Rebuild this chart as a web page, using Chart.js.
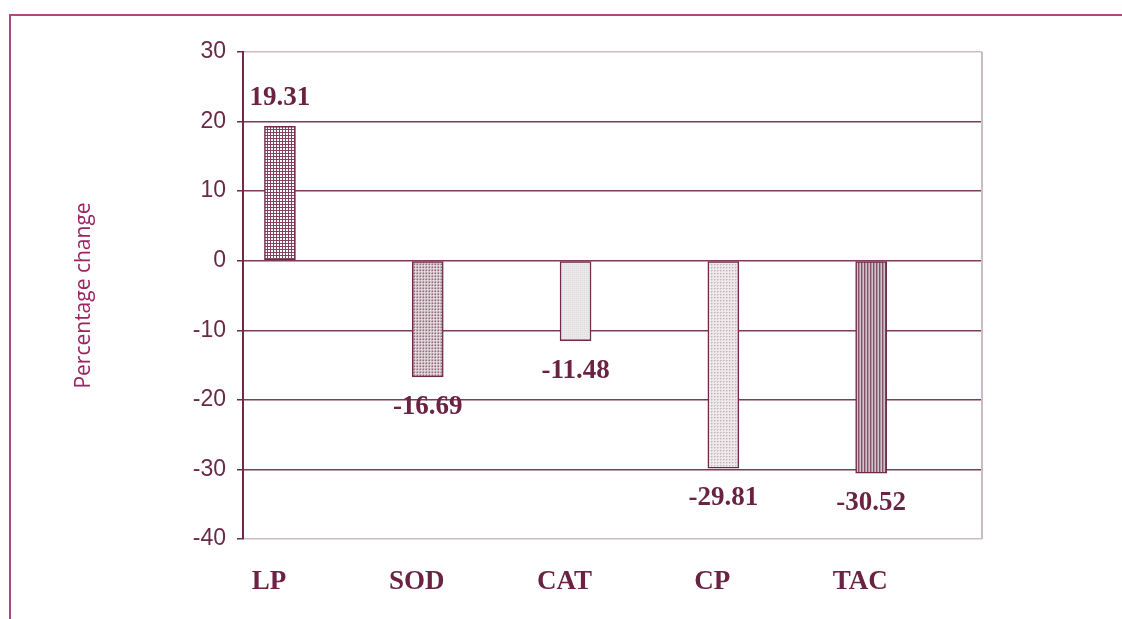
<!DOCTYPE html>
<html>
<head>
<meta charset="utf-8">
<script src="https://cdn.jsdelivr.net/npm/chart.js@4.4.1/dist/chart.umd.min.js"></script>
<style>
  html, body { margin: 0; padding: 0; background: #ffffff; overflow: hidden; }
  #wrap { position: relative; width: 1122px; height: 619px; }
  #frame { position: absolute; left: 9px; top: 14px; width: 1130px; height: 620px;
           border-top: 2px solid #ab4a7b; border-left: 2px solid #ab4a7b; box-sizing: border-box; }
  canvas { position: absolute; left: 0; top: 0; }
</style>
</head>
<body>
<div id="wrap">
  <div id="frame"></div>
  <canvas id="chart" width="1122" height="619"></canvas>
</div>
<script>
// Percentage change of each marker
const categories = ['LP', 'SOD', 'CAT', 'CP', 'TAC'];
const changes = [19.31, -16.69, -11.48, -29.81, -30.52];
const yTicks = [30, 20, 10, 0, -10, -20, -30, -40];

const MAROON = '#6e2a49';
const GRID = '#7d3d59';
const PALE = '#cdbbc3';

// Small fill textures for the bars
function tile(size, paint) {
  const c = document.createElement('canvas');
  c.width = size; c.height = size;
  const g = c.getContext('2d');
  paint(g);
  return g.createPattern(c, 'repeat');
}
const px = (g, x, y, col) => { g.fillStyle = col; g.fillRect(x, y, 1, 1); };

const fills = [
  // LP: dense maroon lattice
  tile(3, g => {
    g.fillStyle = '#ffffff'; g.fillRect(0, 0, 3, 3);
    g.fillStyle = '#84405e'; g.fillRect(0, 0, 3, 1); g.fillRect(0, 0, 1, 3);
  }),
  // SOD: fine mauve-grey weave
  tile(3, g => {
    g.fillStyle = '#d3c7cc'; g.fillRect(0, 0, 3, 3);
    px(g, 0, 0, '#946c7e'); px(g, 2, 0, '#b49ea8'); px(g, 0, 2, '#b49ea8'); px(g, 1, 1, '#eee8eb');
  }),
  // CAT: pale grey
  tile(2, g => {
    g.fillStyle = '#ebe8ea'; g.fillRect(0, 0, 2, 2);
    px(g, 0, 0, '#e0dadd');
  }),
  // CP: light dotted grid
  tile(3, g => {
    g.fillStyle = '#eeeaec'; g.fillRect(0, 0, 3, 3);
    px(g, 0, 0, '#c2b5bb'); px(g, 1, 0, '#d8ced2'); px(g, 0, 1, '#d8ced2');
  }),
  // TAC: vertical stripes
  tile(3, g => {
    g.fillStyle = '#cfc3c8'; g.fillRect(0, 0, 3, 3);
    g.fillStyle = '#865068'; g.fillRect(0, 0, 1, 3);
    g.fillStyle = '#ae97a2'; g.fillRect(1, 0, 1, 3);
  })
];

// Value labels above positive bars and below negative ones
const valueLabels = {
  id: 'valueLabels',
  afterDatasetsDraw(chart) {
    const ctx = chart.ctx;
    const meta = chart.getDatasetMeta(0);
    ctx.save();
    ctx.font = 'bold 27px "Liberation Serif", "Times New Roman", serif';
    ctx.fillStyle = '#6a2342';
    ctx.textAlign = 'center';
    ctx.textBaseline = 'middle';
    meta.data.forEach((bar, i) => {
      const v = changes[i];
      const y = v >= 0 ? bar.y - 28 : bar.y + 30;
      ctx.fillText(v.toFixed(2), bar.x, y);
    });
    ctx.restore();
  }
};

// Light outline on the right side of the plot
const rightEdge = {
  id: 'rightEdge',
  beforeDatasetsDraw(chart) {
    const { ctx, chartArea: a } = chart;
    ctx.save();
    ctx.strokeStyle = PALE;
    ctx.lineWidth = 2;
    ctx.beginPath();
    ctx.moveTo(a.right, a.top);
    ctx.lineTo(a.right, a.bottom);
    ctx.stroke();
    ctx.restore();
  }
};

new Chart(document.getElementById('chart'), {
  type: 'bar',
  data: {
    datasets: [{
      data: changes.map((v, i) => ({ x: i, y: v })),
      backgroundColor: fills,
      borderColor: MAROON,
      borderWidth: 1.5,
      borderSkipped: false,
      barThickness: 31
    }]
  },
  options: {
    responsive: false,
    animation: false,
    layout: { padding: { left: 0, top: 52, right: 140, bottom: 0 } },
    plugins: { legend: { display: false }, tooltip: { enabled: false } },
    scales: {
      x: {
        type: 'linear',
        offset: false,
        min: -0.25,
        max: 4.75,
        afterBuildTicks: s => { s.ticks = categories.map((_, i) => ({ value: i })); },
        afterFit: s => { s.height = 80; },
        grid: { display: false, drawTicks: false, offset: false },
        border: { display: false },
        ticks: {
          callback: v => categories[v],
          padding: 27,
          labelOffset: -11,
          color: '#6a2342',
          font: { family: '"Liberation Serif", "Times New Roman", serif', size: 27, weight: 'bold' }
        }
      },
      y: {
        min: -40,
        max: 30,
        afterBuildTicks: s => { s.ticks = yTicks.map(v => ({ value: v })); },
        afterFit: s => { s.width = 243; },
        grid: {
          color: c => (c.tick && (c.tick.value === 30 || c.tick.value === -40)) ? PALE : GRID,
          lineWidth: 1.5,
          tickColor: MAROON,
          tickLength: 6,
          tickWidth: 1.5
        },
        border: { display: true, color: MAROON, width: 2 },
        ticks: {
          padding: 11,
          color: '#6a2a45',
          font: { family: '"Liberation Sans", Arial, sans-serif', size: 23 }
        },
        title: {
          display: true,
          text: 'Percentage change',
          color: '#9c2461',
          padding: { top: 71, bottom: 0 },
          font: { family: '"Open Sans", "Noto Sans", sans-serif', size: 21 }
        }
      }
    }
  },
  plugins: [valueLabels, rightEdge]
});
</script>
</body>
</html>
